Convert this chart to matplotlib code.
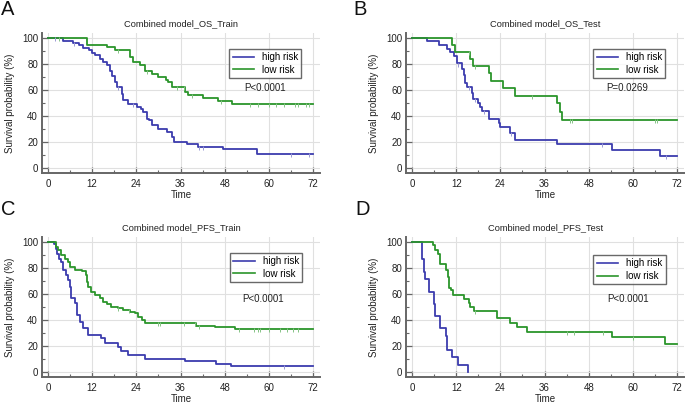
import matplotlib
matplotlib.use("Agg")
import matplotlib.pyplot as plt
from matplotlib.ticker import MultipleLocator
from matplotlib.lines import Line2D
import numpy as np

plt.rcParams["font.family"] = ["Liberation Sans", "DejaVu Sans"]

# ---------------------------
# Kaplan-Meier curves (time in months, survival in %)
# ---------------------------
A_high_t = [0, 4.2, 6.9, 8.5, 9.6, 11, 11.9, 12.8, 14, 15, 16, 16.8, 17.4, 18.2, 18.7, 20, 20.5, 21.8,
            24.1, 25.2, 25.9, 26.8, 27.3, 28.2, 30, 32.3, 33.6, 34.3, 37.7, 40.8, 47.6, 56.7, 72]
A_high_s = [100, 97.7, 96.4, 94.4, 92.5, 90.5, 88.5, 86.7, 84, 81.5, 79, 75, 71, 66, 62, 57, 52, 49.5,
            47, 45, 43, 38, 36.7, 32.8, 30.2, 27.7, 24, 20, 18.2, 16.2, 14.4, 11, 11]
A_low_t = [0, 10.5, 16, 18.2, 22.3, 23.2, 25, 26.4, 28.2, 30, 32, 32.7, 33.6, 37.2, 38.1, 42, 46.3, 49.9, 72]
A_low_s = [100, 95, 93, 90.5, 85.4, 81.5, 79, 75, 72.5, 70, 68, 66, 62, 58.5, 56, 54, 51.3, 49.5, 49.5]

B_high_t = [0, 4.1, 7.2, 9.5, 10.4, 11.3, 12.2, 13.5, 14, 14.5, 14.9, 16.3, 16.7, 18, 18.5, 19, 20.8,
            23.5, 24, 26.6, 28, 39.3, 54.2, 67.3, 72]
B_high_s = [100, 97.5, 94.4, 91.8, 89, 86, 80.4, 76.5, 71.4, 65.6, 62.5, 57.4, 52.8, 49.7, 47.2, 43.9, 37.5,
            34.4, 31.4, 27.3, 21.7, 18.6, 14, 9.4, 9.4]
B_low_t = [0, 10.8, 11.7, 15.8, 16.7, 20.8, 21.4, 24.8, 28, 39.3, 40.2, 40.7, 72]
B_low_s = [100, 94.9, 89.3, 84.2, 78.3, 72.7, 67.1, 61.2, 55.6, 49.7, 43.4, 37, 37]

C_high_t = [0, 1.5, 2.1, 2.4, 3, 3.6, 4.1, 5, 5.4, 5.9, 6.3, 7.2, 7.9, 8.6, 9.5, 10.9, 14.5, 15.4, 19,
            19.9, 21.7, 26.3, 37.1, 45.7, 49.8, 72]
C_high_s = [100, 98.7, 95, 91, 87, 84.7, 78.3, 74.5, 70.7, 65.6, 56.6, 52.8, 43.9, 38.8, 33.7, 28.6, 26,
            22.2, 19.6, 15.8, 12.8, 10.2, 8.2, 6.1, 4.3, 4.3]
C_low_t = [0, 2.3, 2.7, 3.6, 4.5, 5.4, 5.9, 7.2, 9.1, 10.2, 10.6, 10.9, 11.8, 12.7, 14, 14.9, 15.9, 17.2,
           19, 20.4, 22.2, 23.6, 24.5, 25.4, 26.3, 40.3, 45.3, 50.7, 72]
C_low_s = [100, 96, 93.6, 89.8, 87.2, 84.7, 80.9, 78.8, 77.8, 74.5, 69.4, 65.6, 61.7, 59.2, 56.6, 54.1,
           52.3, 50.3, 49, 47.7, 46.4, 45.2, 42.6, 40, 37.5, 35.5, 34.4, 32.9, 32.9]

D_high_t = [0, 2.7, 3.2, 3.4, 4.5, 5.9, 6.3, 7.7, 9.1, 9.5, 10.9, 12.5, 15.1]
D_high_s = [100, 87.2, 77, 71.4, 61.7, 52.3, 43.1, 33.7, 27.8, 17.1, 11.5, 5.6, 0]
D_low_t = [0, 5.6, 6.3, 7.1, 7.7, 9.1, 9.7, 10.1, 10.7, 11, 14, 15.4, 15.8, 16.9, 23.1, 26.7, 28.5,
           31.3, 54.3, 68.8, 72]
D_low_s = [100, 97.4, 94.1, 91, 82.9, 78.3, 73.2, 65, 63, 59.2, 55.9, 52.8, 50.3, 47.2, 41.3, 37.5,
           34.9, 31.1, 26.8, 21.4, 21.4]

# censored observations (times)
A_high_c = [2, 7, 19, 23, 41, 42, 66, 71]
A_low_c = [3, 19, 27, 35, 37, 39, 47, 55, 57, 60, 62, 64, 67, 68, 70, 71]
B_high_c = [12.5, 15.5, 17, 19.5, 27, 51.5, 69]
B_low_c = [15.5, 17, 32.5, 43, 43.5, 66, 66.5]
C_high_c = [64]
C_low_c = [19, 22, 30, 30.5, 37, 40, 41, 52, 56, 57, 57.5, 60, 63, 65, 66.5, 68]
D_high_c = []
D_low_c = [17, 42, 44, 52, 60]

panels = [
    ("A", "Combined model_OS_Train", "P<0.0001", A_high_t, A_high_s, A_high_c, A_low_t, A_low_s, A_low_c),
    ("B", "Combined model_OS_Test", "P=0.0269", B_high_t, B_high_s, B_high_c, B_low_t, B_low_s, B_low_c),
    ("C", "Combined model_PFS_Train", "P<0.0001", C_high_t, C_high_s, C_high_c, C_low_t, C_low_s, C_low_c),
    ("D", "Combined model_PFS_Test", "P<0.0001", D_high_t, D_high_s, D_high_c, D_low_t, D_low_s, D_low_c),
]

# axes rectangles [left, bottom, width, height], legend / p-value spots, panel letter spots
rects = [
    [0.0615, 0.5713, 0.4057, 0.3475],
    [0.5929, 0.5713, 0.4057, 0.3475],
    [0.0615, 0.0663, 0.4057, 0.3475],
    [0.5929, 0.0663, 0.4057, 0.3475],
]
leg_spots = [(0.673, 0.885), (0.673, 0.885), (0.676, 0.887), (0.674, 0.870)]
p_spots = [(0.802, 0.607), (0.794, 0.607), (0.796, 0.557), (0.797, 0.557)]
letter_spots = [(0.002, 0.962), (0.516, 0.962), (0.002, 0.467), (0.519, 0.467)]

blue = "#3c3cae"
green = "#2b952b"


def step_value(t, s, x):
    idx = np.searchsorted(t, x, side="right") - 1
    return np.array(s)[idx]


fig = plt.figure(figsize=(6.85, 4.04), dpi=100)

for i, (letter, title, ptxt, ht, hs, hc, lt, ls, lc) in enumerate(panels):
    ax = fig.add_axes(rects[i])
    ax.step(ht, hs, where="post", color=blue, lw=1.3)
    ax.step(lt, ls, where="post", color=green, lw=1.3)
    if hc:
        ax.plot(hc, step_value(ht, hs, hc) - 0.8, ls="none", marker="|", ms=3.5, mew=0.7,
                color="#9a9ad4")
    if lc:
        ax.plot(lc, step_value(lt, ls, lc) - 0.8, ls="none", marker="|", ms=3.5, mew=0.7,
                color="#86c486")

    ax.set_xlim(-1.6, 73.9)
    ax.set_ylim(-4, 104)
    ax.xaxis.set_major_locator(MultipleLocator(12))
    ax.xaxis.set_minor_locator(MultipleLocator(6))
    ax.yaxis.set_major_locator(MultipleLocator(20))
    ax.yaxis.set_minor_locator(MultipleLocator(10))
    ax.grid(True, which="major", color="#e0e0e0", lw=0.8)
    ax.set_axisbelow(True)
    for sp in ["top", "right"]:
        ax.spines[sp].set_visible(False)
    for sp in ["left", "bottom"]:
        ax.spines[sp].set_color("#666666")
        ax.spines[sp].set_linewidth(1.4)
    ax.tick_params(which="major", direction="in", length=4, width=0.9, color="#666666",
                   labelsize=7, labelcolor="#222222", pad=3)
    ax.tick_params(which="minor", direction="in", length=2.5, width=0.8, color="#666666")
    ax.tick_params(axis="x", which="major", pad=4)

    ax.set_title(title, fontsize=6.7, color="#222222", pad=5)
    ax.set_xlabel("Time", fontsize=7, color="#222222", labelpad=1)
    ax.set_ylabel("Survival probability (%)", fontsize=7, color="#222222", labelpad=5)

    handles = [Line2D([], [], color=blue, lw=1.2), Line2D([], [], color=green, lw=1.2)]
    leg = ax.legend(handles, ["high risk", "low risk"], loc="upper left",
                    bbox_to_anchor=leg_spots[i], fontsize=7, frameon=True, fancybox=False,
                    borderpad=0.35, handlelength=2.2, handletextpad=0.8, labelspacing=0.25,
                    borderaxespad=0)
    leg.get_frame().set_edgecolor("#444444")
    leg.get_frame().set_linewidth(1.0)
    ax.text(p_spots[i][0], p_spots[i][1], ptxt, transform=ax.transAxes, ha="center",
            va="center", fontsize=7, color="#222222")

    fig.text(letter_spots[i][0], letter_spots[i][1], letter, fontsize=14.5, ha="left",
             va="baseline", color="#111111")

fig.savefig("out.png", dpi=100)
